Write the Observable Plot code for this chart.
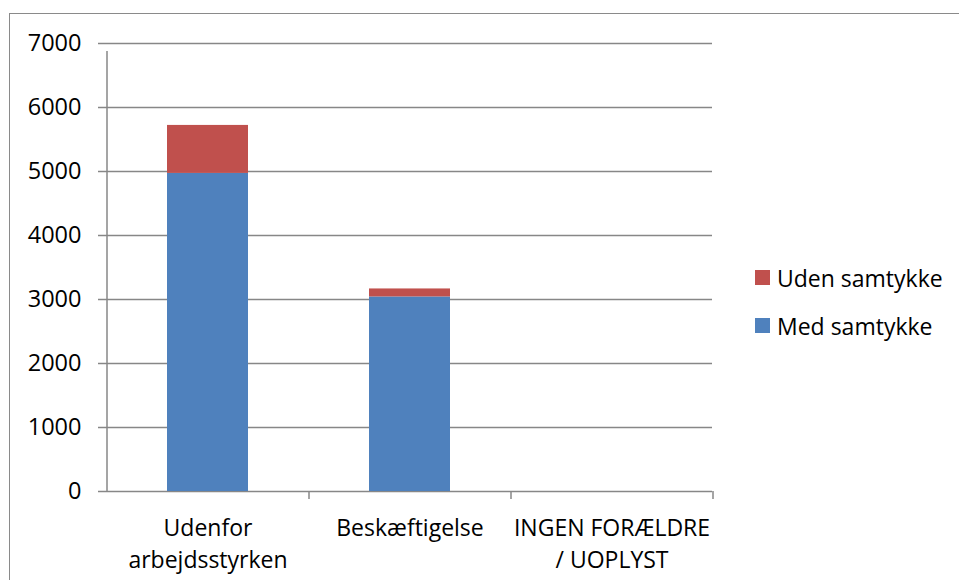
<!DOCTYPE html>
<html>
<head>
<meta charset="utf-8">
<script src="https://cdn.jsdelivr.net/npm/d3@7"></script>
<script src="https://cdn.jsdelivr.net/npm/@observablehq/plot@0.6"></script>
<style>
  html, body { margin: 0; padding: 0; background: #fff; }
  #wrap { position: relative; width: 959px; height: 580px; overflow: hidden; font-family: "Open Sans", sans-serif; }
  #border { position: absolute; left: 9px; top: 13px; width: 1000px; height: 700px; border-left: 1.5px solid #8a8a8a; border-top: 1.5px solid #8a8a8a; }
  #chart { position: absolute; left: 0; top: 0; }
  #legend { position: absolute; left: 755px; top: 262px; }
  .row { display: flex; align-items: center; height: 31px; margin-bottom: 17px; font-size: 23px; color: #000; }
  .sw { width: 15px; height: 15px; margin-right: 7px; flex: none; }
</style>
</head>
<body>
<div id="wrap">
  <div id="border"></div>
  <div id="chart"></div>
  <div id="legend"></div>
</div>
<script>
const categories = ["Udenfor arbejdsstyrken", "Beskæftigelse", "INGEN FORÆLDRE / UOPLYST"];
const tickLabels = ["Udenfor\narbejdsstyrken", "Beskæftigelse", "INGEN FORÆLDRE\n/ UOPLYST"];
const seriesNames = ["Med samtykke", "Uden samtykke"];
const medSamtykke = [4970, 3040, 0];
const udenSamtykke = [750, 125, 0];
const seriesColors = ["#4F81BD", "#C0504D"];
const legendOrder = ["Uden samtykke", "Med samtykke"];
const yTicks = [0, 1000, 2000, 3000, 4000, 5000, 6000, 7000];

const data = [];
categories.forEach((c, i) => data.push({category: c, series: seriesNames[0], value: medSamtykke[i]}));
categories.forEach((c, i) => data.push({category: c, series: seriesNames[1], value: udenSamtykke[i]}));

const W = 959, H = 580, mL = 106, mR = 247, mT = 43, mB = 89;
const half = (W - mL - mR) / categories.length / 2;
const gray = "#878787";
const labelOf = new Map(categories.map((c, i) => [c, tickLabels[i]]));

const chart = Plot.plot({
  width: W, height: H,
  marginLeft: mL, marginRight: mR, marginTop: mT, marginBottom: mB,
  style: {fontFamily: "'Open Sans', sans-serif", fontSize: "23px", color: "#000", background: "transparent"},
  x: {domain: categories, paddingInner: 0.6, paddingOuter: 0.3, axis: null, label: null},
  y: {domain: [0, 7000], axis: null, label: null},
  color: {domain: seriesNames, range: seriesColors},
  marks: [
    Plot.gridY(yTicks, {stroke: gray, strokeOpacity: 1, strokeWidth: 1.5}),
    Plot.barY(data, {x: "category", y: "value", fill: "series"}),
    Plot.ruleX([categories[0]], {y1: 0, y2: 7000, insetBottom: -8, dx: -half, stroke: gray, strokeWidth: 1.5}),
    Plot.ruleX(categories, {y1: 0, y2: 0, insetBottom: -8, dx: half, stroke: gray, strokeWidth: 1.5}),
    Plot.axisY(yTicks, {tickSize: 8, tickPadding: 17, stroke: gray, strokeWidth: 1.5, fontSize: 23.5, label: null, tickFormat: d => String(d)}),
    Plot.axisX({tickSize: 0, tickPadding: 22, fontSize: 23, lineHeight: 1.39, label: null, tickFormat: d => labelOf.get(d)})
  ]
});
document.getElementById("chart").appendChild(chart);

const legend = document.getElementById("legend");
legendOrder.forEach(name => {
  const row = document.createElement("div");
  row.className = "row";
  const sw = document.createElement("div");
  sw.className = "sw";
  sw.style.background = seriesColors[seriesNames.indexOf(name)];
  const t = document.createElement("span");
  t.textContent = name;
  row.appendChild(sw);
  row.appendChild(t);
  legend.appendChild(row);
});
</script>
</body>
</html>
